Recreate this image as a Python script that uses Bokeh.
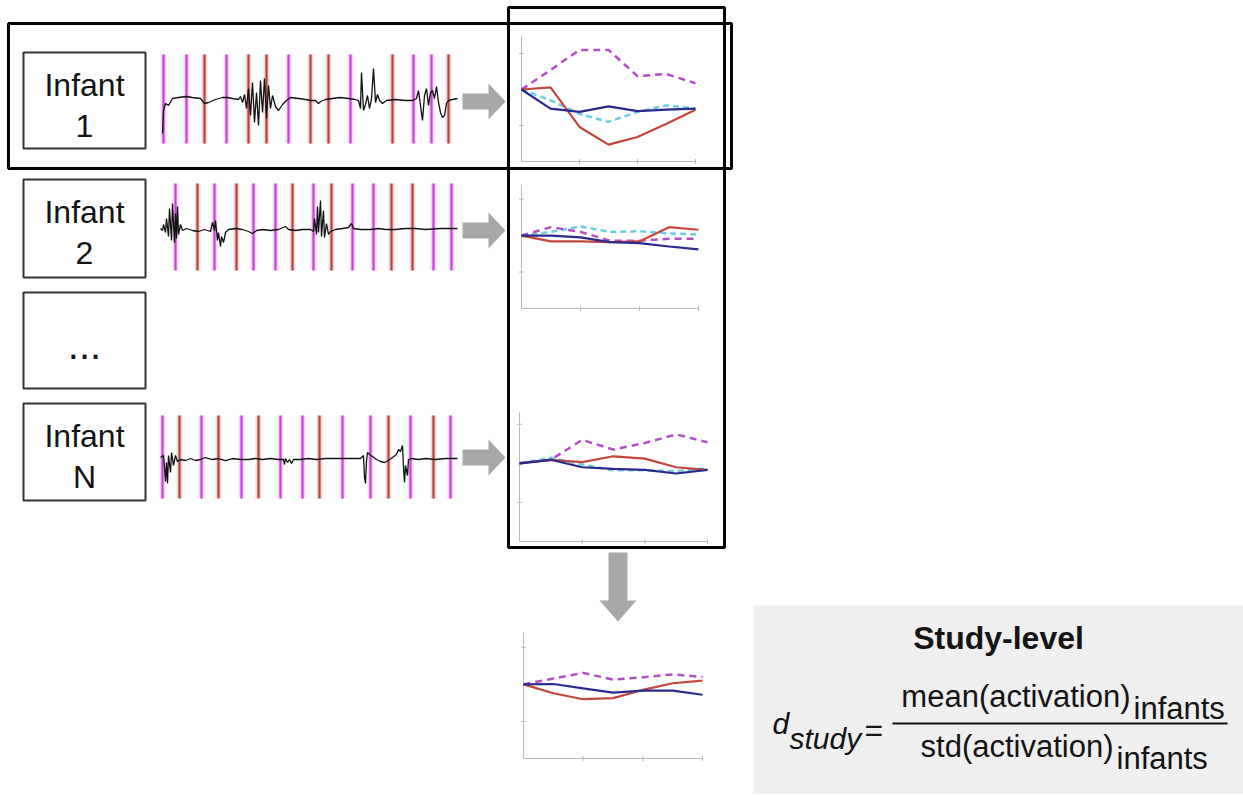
from bokeh.plotting import figure
from bokeh.models import Range1d
from bokeh.embed import file_html
from bokeh.resources import INLINE
from bokeh.core.properties import value
import math

W, H = 1243, 795

# ---------------- data ----------------
# condition-averaged activation curves (7 time bins)
time_bins = [0, 1, 2, 3, 4, 5, 6]
x_ticks = [2, 4]
y_ticks = [-1, 1]

inf1_mag = [0, 0.54, 1.10, 1.10, 0.37, 0.43, 0.17]
inf1_red = [0, 0.06, -1.04, -1.53, -1.32, -0.95, -0.56]
inf1_navy = [0, -0.53, -0.62, -0.47, -0.60, -0.56, -0.53]
inf1_cyan = [0, -0.30, -0.68, -0.90, -0.62, -0.44, -0.53]

inf2_mag = [0, 0.23, 0.10, -0.14, -0.14, -0.09, -0.09]
inf2_red = [0, -0.16, -0.16, -0.18, -0.16, 0.23, 0.16]
inf2_navy = [0, 0.00, -0.05, -0.18, -0.21, -0.30, -0.38]
inf2_cyan = [0, 0.10, 0.25, 0.10, 0.12, 0.06, 0.03]

infN_mag = [0, 0.09, 0.60, 0.35, 0.52, 0.74, 0.54]
infN_red = [0, 0.09, 0.03, 0.18, 0.12, -0.10, -0.17]
infN_navy = [0, 0.09, -0.10, -0.14, -0.17, -0.26, -0.17]
infN_cyan = [0, 0.14, -0.03, -0.18, -0.18, -0.20, -0.12]

study_mag = [0, 0.16, 0.31, 0.13, 0.19, 0.27, 0.20]
study_red = [0, -0.24, -0.40, -0.37, -0.15, 0.03, 0.10]
study_navy = [0, 0.01, -0.11, -0.22, -0.17, -0.17, -0.28]

# stimulus onsets (time units) and condition (M = magenta, R = red)
inf1_onsets = [3, 26, 44, 66, 88, 106, 128, 150, 168, 190, 232, 253, 271, 288]
inf1_conds = ["M", "M", "R", "M", "R", "R", "M", "R", "R", "M", "R", "M", "M", "R"]
inf2_onsets = [15, 37, 54, 76, 93, 115, 132, 153, 171, 192, 213, 231, 252, 273, 291]
inf2_conds = ["M", "R", "M", "R", "M", "M", "R", "M", "R", "M", "M", "R", "R", "M", "M"]
infN_onsets = [2, 19, 41, 58, 81, 98, 120, 142, 159, 182, 210, 228, 250, 273, 290]
infN_conds = ["M", "R", "M", "R", "M", "R", "M", "M", "R", "M", "M", "R", "M", "R", "M"]

# raw signal traces (time, amplitude)
inf1_t = [2, 3, 5, 8, 12, 18, 25, 32, 40, 44, 48, 55, 62, 67, 72, 78, 80, 82, 84, 86, 88, 90, 92, 94, 96,
          98, 100, 102, 104, 106, 108, 110, 112, 115, 118, 122, 126, 130, 138, 145, 150, 155, 158, 160,
          165, 172, 180, 188, 195, 198, 200, 201, 203, 205, 207, 209, 211, 213, 215, 217, 219, 222, 226,
          235, 245, 252, 256, 258, 260, 262, 264, 266, 268, 270, 272, 274, 276, 278, 280, 282, 284, 286,
          288, 292, 297]
inf1_a = [-33, -10, -3, -5, 2, 3, 4, 3, 2, -3, -2, 1, 3, 3, 2, 1, 4, -2, 6, -8, 12, -15, 18, -22, 8,
          -25, 20, -12, 22, -18, 15, -8, 5, -6, -10, -4, 0, 3, 2, 1, 0, 0, -3, -1,
          1, 2, 3, 2, 1, 0, -8, 28, -10, -4, 5, -8, 2, 32, -2, 6, 0, -3, 0,
          1, 0, 0, 2, 10, -5, -20, 5, 12, -5, 8, 10, 2, 14, -2, -12, -17, -15, -3,
          0, 1, 2]

inf2_t = [0, 2, 3, 5, 6, 8, 9, 11, 12, 14, 15, 16, 17, 18, 20, 22, 26, 32, 38, 44, 50, 52, 54, 55, 57,
          58, 60, 61, 63, 65, 68, 75, 82, 88, 92, 96, 102, 110, 118, 125, 128, 135, 142, 150, 153, 154,
          156, 157, 158, 160, 161, 163, 164, 166, 168, 170, 175, 182, 188, 191, 193, 200, 210, 218, 225,
          235, 245, 255, 265, 280, 297]
inf2_a = [0, -2, 4, -4, 10, -8, 20, -12, 25, -14, 15, -10, 22, -6, 4, -2, 0, -2, -3, -1, -3, 6, -2, 8, -12,
          -4, -18, -8, -14, -4, -1, 0, -1, -3, -5, -2, -1, -2, -1, 2, -1, -2, -1, -1, -3, 10,
          -6, 22, -4, 28, -8, 18, -9, 5, -6, -3, -1, 0, 1, 5, 0, -1, -1, 0, -1,
          -1, 0, 0, -1, 0, 0]

infN_t = [0, 3, 4, 5, 6, 7, 8, 10, 11, 13, 15, 17, 20, 25, 30, 35, 40, 45, 52, 58, 65, 72, 80, 88, 95,
          102, 110, 118, 123, 124, 125, 127, 129, 131, 133, 140, 148, 156, 165, 175, 185, 195, 200, 203,
          204, 205, 206, 207, 209, 212, 216, 220, 224, 228, 232, 236, 238, 240, 242, 243, 244, 245, 247,
          248, 251, 258, 265, 275, 285, 297]
infN_a = [0, 2, -10, -24, -5, -26, 2, -15, 5, -8, 2, -4, -2, -3, -1, -3, -2, 0, -2, -1, -3, -1, -2, -2, -1,
          -2, -1, -2, -2, -7, -1, -5, -2, -6, -2, -2, -1, -2, -1, -1, -1, -1, -1, 2,
          -20, -26, -3, 5, 3, 1, -2, -4, -5, -3, 0, 3, 8, 6, 12, -10, -25, -8, -18,
          -2, -1, -2, -1, -2, -1, -1]

row_labels = ["1", "2", "...", "N"]
title_text = "Study-level"

# ---------------- styles ----------------
C_MAG = "#b24fc6"
C_RED = "#c2463c"
C_NAVY = "#2a2a8e"
C_CYAN = "#6acde6"
C_ONSET = {"M": "#c93fd8", "R": "#b3433d"}
C_ARROW = "#a8a8a8"
C_AXIS = "#b9b9b9"
FONT = value("Liberation Sans")
DY = -10  # text baseline correction

p = figure(width=W, height=H, x_range=Range1d(0, W), y_range=Range1d(H, 0),
           output_backend="svg", toolbar_location=None,
           x_axis_location=None, y_axis_location=None, min_border=0)
p.min_border_left = p.min_border_right = p.min_border_top = p.min_border_bottom = 0
p.outline_line_color = None
p.background_fill_color = "white"
p.border_fill_color = "white"
p.grid.visible = False


def add_panel(name, px_left, px_right, x_lo, x_hi, px_bot, px_top, y_lo, y_hi):
    sx = (px_right - px_left) / (x_hi - x_lo)
    xs = x_lo - px_left / sx
    p.extra_x_ranges[name] = Range1d(xs, xs + W / sx)
    sy = (px_bot - px_top) / (y_hi - y_lo)
    ys = y_lo - (H - px_bot) / sy
    p.extra_y_ranges[name] = Range1d(ys, ys + H / sy)


def txt(x, y, s, size, style="normal", align="left"):
    p.text(x=x, y=[v + DY for v in y], text=s, text_font=FONT, text_font_size=value(size),
           text_font_style=style, text_align=align, text_baseline="alphabetic", text_color="#141414")


# ---------------- gray study box ----------------
p.quad(left=753, right=W, top=605, bottom=793, fill_color="#efefef", line_color=None)

# ---------------- infant label boxes ----------------
box_tops = [52, 179, 292, 403]
box_bots = [148, 277, 388, 500]
p.quad(left=[23] * 4, right=[145] * 4, top=box_tops, bottom=box_bots,
       fill_color=None, line_color="#333333", line_width=2)
for lab, t in zip(row_labels, box_tops):
    if lab == "...":
        txt([84], [t + 62], [lab], "40px", align="center")
    else:
        txt([84, 84], [t + 42, t + 83], ["Infant", lab], "32px", align="center")

# ---------------- raw traces with onset markers ----------------
rows = [
    ("r1", 100, (-43, 46), inf1_onsets, inf1_conds, inf1_t, inf1_a),
    ("r2", 228, (-42, 45), inf2_onsets, inf2_conds, inf2_t, inf2_a),
    ("rN", 457, (-41, 42), infN_onsets, infN_conds, infN_t, infN_a),
]
for name, base, (lo, hi), onsets, conds, tt, aa in rows:
    add_panel(name, 160, 458, 0, 298, base + 50, base - 50, -50, 50)
    cols = [C_ONSET[c] for c in conds]
    p.segment(x0=onsets, x1=onsets, y0=[lo] * len(onsets), y1=[hi] * len(onsets),
              line_color=cols, line_width=6, line_alpha=0.2, x_range_name=name, y_range_name=name)
    p.segment(x0=onsets, x1=onsets, y0=[lo] * len(onsets), y1=[hi] * len(onsets),
              line_color=cols, line_width=2.2, x_range_name=name, y_range_name=name)
    p.line(tt, aa, line_color="#111111", line_width=1.3, x_range_name=name, y_range_name=name)

# ---------------- arrows ----------------
for cy in [101, 230, 457]:
    p.patch([462, 488, 488, 505, 488, 488, 462], [cy - 8, cy - 8, cy - 18, cy, cy + 18, cy + 8, cy + 8],
            fill_color=C_ARROW, line_color=None)
p.patch([608, 627, 627, 636, 617.5, 599, 608], [552, 552, 600, 600, 621, 600, 600],
        fill_color=C_ARROW, line_color=None)

# ---------------- mini activation charts ----------------
panels = [
    ("m1", (521, 695, 161, 35, 1.5), inf1_mag, inf1_red, inf1_navy, inf1_cyan),
    ("m2", (521, 698, 308, 184, 1.4), inf2_mag, inf2_red, inf2_navy, inf2_cyan),
    ("m3", (519, 707, 541, 412, 1.3), infN_mag, infN_red, infN_navy, infN_cyan),
    ("m4", (523, 702, 758, 632, 1.4), study_mag, study_red, study_navy, None),
]
for name, (pl, pr, pb, pt, yhi), mag, red, navy, cyan in panels:
    add_panel(name, pl, pr, 0, 6, pb, pt, -2, yhi)
    kw = dict(x_range_name=name, y_range_name=name)
    p.line([0, 0], [-2, yhi], line_color=C_AXIS, line_width=1, **kw)
    p.line([0, 6], [-2, -2], line_color=C_AXIS, line_width=1, **kw)
    p.scatter([0] * len(y_ticks), y_ticks, marker="dash", size=5, line_color=C_AXIS, **kw)
    p.scatter(x_ticks + [6], [-2] * 3, marker="dash", angle=math.pi / 2, size=5, line_color=C_AXIS, **kw)
    if cyan is not None:
        p.line(time_bins, cyan, line_color=C_CYAN, line_width=2.5, line_dash="6 4", **kw)
    p.line(time_bins, mag, line_color=C_MAG, line_width=2.5, line_dash="7 5", **kw)
    p.line(time_bins, red, line_color=C_RED, line_width=2.2, **kw)
    p.line(time_bins, navy, line_color=C_NAVY, line_width=2.2, **kw)

# ---------------- frames ----------------
p.quad(left=8, right=731, top=23, bottom=168, fill_color=None, line_color="black", line_width=3)
p.quad(left=508, right=724, top=7, bottom=547, fill_color=None, line_color="black", line_width=3)

# ---------------- study-level formula ----------------
txt([998], [647], [title_text], "32px", style="bold", align="center")
txt([772], [733], ["d"], "30px", style="italic")
txt([789], [748], ["study"], "30px", style="italic")
txt([864], [739], ["="], "32px")
p.segment(x0=[892], x1=[1227], y0=[723], y1=[723], line_color="#111111", line_width=2)
txt([1130, 1113], [706, 756], ["mean(activation)", "std(activation)"], "31px", align="right")
txt([1133, 1116], [718, 768], ["infants", "infants"], "31px")

open("out.html", "w").write(file_html(p, INLINE))
